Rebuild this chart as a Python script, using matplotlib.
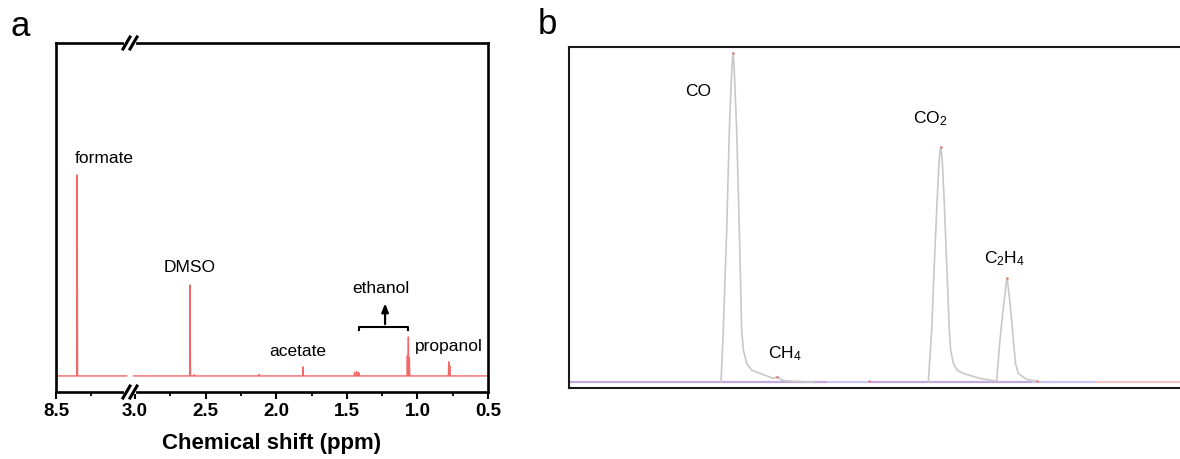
import matplotlib

matplotlib.use("Agg")
import matplotlib.pyplot as plt
import numpy as np

plt.rcParams["font.family"] = ["Liberation Sans", "DejaVu Sans"]
plt.rcParams["mathtext.fontset"] = "custom"
plt.rcParams["mathtext.rm"] = "Liberation Sans"
plt.rcParams["mathtext.it"] = "Liberation Sans:italic"

# ---- Panel a: 1H NMR peaks (ppm, relative height; formate = 1) ----------
nmr_ppm = [8.35, 2.61, 2.58, 2.12, 1.81, 1.445, 1.43, 1.415,
           1.071, 1.064, 1.057, 0.778, 0.771]
nmr_height = [1.0, 0.453, 0.006, 0.008, 0.045, 0.018, 0.022, 0.016,
              0.10, 0.194, 0.09, 0.07, 0.05]
nmr_labels = ["formate", "DMSO", "acetate", "ethanol", "propanol"]
nmr_label_ppm = [8.365, 2.61, 1.845, 1.257, 0.776]
nmr_label_y = [1.08, 0.542, 0.124, 0.433, 0.144]
left_ticks = [8.5]
right_ticks = [3.0, 2.5, 2.0, 1.5, 1.0, 0.5]

# ---- Panel b: GC trace (retention time, signal) ----
gc1_t = [2.468, 2.505, 2.560, 2.603, 2.635, 2.650, 2.662, 2.675, 2.689, 2.722,
         2.765, 2.803, 2.830, 2.884, 2.965, 3.101, 3.317, 3.382, 3.45, 3.534, 3.966]
gc1_s = [0, 15.8, 46.2, 76.6, 91.8, 97.5, 100, 97.5, 91.8, 76.6,
         46.2, 15.8, 9.8, 5.7, 3.6, 2.6, 1.1, 1.6, 0.6, 0.3, 0]
gc2_t = [5.833, 5.888, 5.931, 5.979, 6.006, 6.022, 6.034, 6.046, 6.061, 6.088,
         6.131, 6.174, 6.195, 6.239, 6.300, 6.402, 6.672, 6.888, 6.943, 6.986,
         7.040, 7.073, 7.100, 7.110, 7.120, 7.148, 7.175, 7.224, 7.250, 7.294,
         7.430, 7.646]
gc2_s = [0, 15.8, 36.1, 56.3, 66.5, 70.0, 71.3, 70.0, 66.5, 56.3,
         36.1, 15.8, 9.8, 5.7, 3.6, 2.6, 1.1, 0.4, 0.3, 10.7,
         20.9, 25.9, 30.5, 31.5, 30.5, 25.9, 20.9, 10.7, 5.5, 2.6,
         0.8, 0]
gc_labels = ["CO", "CH$_4$", "CO$_2$", "C$_2$H$_4$"]
gc_label_t = [2.10, 3.51, 5.86, 7.07]
gc_label_s = [88.2, 8.7, 80.1, 37.6]
apex_t = [2.662, 3.382, 4.875, 6.034, 7.110, 7.60]
apex_s = [100, 1.6, 0.2, 71.3, 31.5, 0.4]
base_edges = [0, 4.19, 4.89, 7.52, 8.54, 10.2]
base_colors = ["#c6a6de", "#c8c8f6", "#c6a6de", "#c8c8f6", "#f4c2c2"]

W, H = 1180, 459
fig = plt.figure(figsize=(W / 100, H / 100), dpi=100)


def fx(px):
    return px / W


def fy(py):
    return (H - py) / H


def spectrum(lo, hi):
    # stick spectrum: each line is a narrow triangle on a flat baseline
    xs, ys = [hi], [0.0]
    for p, h in sorted(zip(nmr_ppm, nmr_height), reverse=True):
        if lo < p < hi:
            xs += [p + 0.003, p, p - 0.003]
            ys += [0.0, h, 0.0]
    xs.append(lo)
    ys.append(0.0)
    return xs, ys


# ---------------- panel a (broken x axis) ----------------
ax_top, ax_bot, brk = 43, 392, 130
axl = fig.add_axes([fx(56), fy(ax_bot), fx(brk - 56), fy(ax_top) - fy(ax_bot)])
axr = fig.add_axes([fx(brk), fy(ax_bot), fx(488 - brk), fy(ax_top) - fy(ax_bot)])
axr.patch.set_visible(False)
axl.set_xlim(8.5, 8.5 - (brk - 56) / 141.2)
axr.set_xlim(0.5 + (488 - brk) / 141.2, 0.5)
red = "#f26868"
for ax, (lo, hi) in ((axl, (8.0, 8.5)), (axr, (0.5, 3.01))):
    xs, ys = spectrum(lo, hi)
    ax.plot(xs, ys, color=red, lw=1.0)
    ax.set_ylim(-0.08, 1.657)
    ax.set_yticks([])
    for s in ax.spines.values():
        s.set_linewidth(1.9)
    ax.tick_params(axis="x", which="major", direction="out", length=5, width=1.5,
                   labelsize=13.5, pad=3)
    ax.tick_params(axis="x", which="minor", direction="out", length=3, width=1.3)
axl.spines["right"].set_visible(False)
axr.spines["left"].set_visible(False)
axl.set_xticks(left_ticks)
axl.set_xticks([8.25], minor=True)
axr.set_xticks(right_ticks)
axr.set_xticks([2.75, 2.25, 1.75, 1.25, 0.75], minor=True)
axl.set_xticklabels([f"{t:.1f}" for t in left_ticks], fontweight="bold")
axr.set_xticklabels([f"{t:.1f}" for t in right_ticks], fontweight="bold")

# break marks "//" on top and bottom spines
for yy in (ax_top, ax_bot):
    fig.add_artist(plt.Line2D([fx(brk - 4), fx(brk + 4)], [fy(yy), fy(yy)],
                              color="white", lw=3, transform=fig.transFigure))
    for cx in (brk - 3.5, brk + 3.5):
        fig.add_artist(plt.Line2D([fx(cx - 3.5), fx(cx + 3.5)],
                                  [fy(yy + 6), fy(yy - 6)], color="black",
                                  lw=2.2, transform=fig.transFigure))

axl.text(nmr_label_ppm[0], nmr_label_y[0], nmr_labels[0], fontsize=12.5,
         ha="left", va="center", clip_on=False, zorder=10)
for lab, x, y in zip(nmr_labels[1:], nmr_label_ppm[1:], nmr_label_y[1:]):
    axr.text(x, y, lab, fontsize=12.5, ha="center", va="center")
# ethanol bracket + arrow
axr.plot([1.413, 1.413, 1.066, 1.066], [0.229, 0.244, 0.244, 0.229],
         color="black", lw=1.5)
axr.annotate("", xy=(1.229, 0.375), xytext=(1.229, 0.244),
             arrowprops=dict(arrowstyle="-|>,head_length=0.5,head_width=0.2",
                             color="black", lw=1.6))

fig.text(fx(272), fy(443), "Chemical shift (ppm)", fontsize=16,
         fontweight="bold", ha="center", va="center")
fig.text(fx(11), fy(36), "a", fontsize=25, ha="left", va="baseline")

# ---------------- panel b (GC chromatogram) ----------------
axb = fig.add_axes([fx(569), fy(388), fx(1195 - 569), fy(47) - fy(388)])
axb.set_xlim(0, (1195 - 569) / 61.6)
axb.set_ylim(-1.82, 101.8)
for a0, a1, c in zip(base_edges[:-1], base_edges[1:], base_colors):
    axb.plot([a0, a1], [0, 0], color=c, lw=1.6, solid_capstyle="butt")
axb.plot(gc1_t, gc1_s, color="#c8c8c8", lw=1.2)
axb.plot(gc2_t, gc2_s, color="#c8c8c8", lw=1.2)
axb.plot(apex_t, apex_s, "o", color="#f07070", ms=1.8, mew=0)
for lab, t, s in zip(gc_labels, gc_label_t, gc_label_s):
    axb.text(t, s, lab, fontsize=12.5, ha="center", va="center")
axb.set_xticks([])
axb.set_yticks([])
for s in axb.spines.values():
    s.set_linewidth(1.5)
    s.set_color("#1a1a1a")
fig.text(fx(538), fy(34), "b", fontsize=25, ha="left", va="baseline")

fig.savefig("out.png", dpi=100)
